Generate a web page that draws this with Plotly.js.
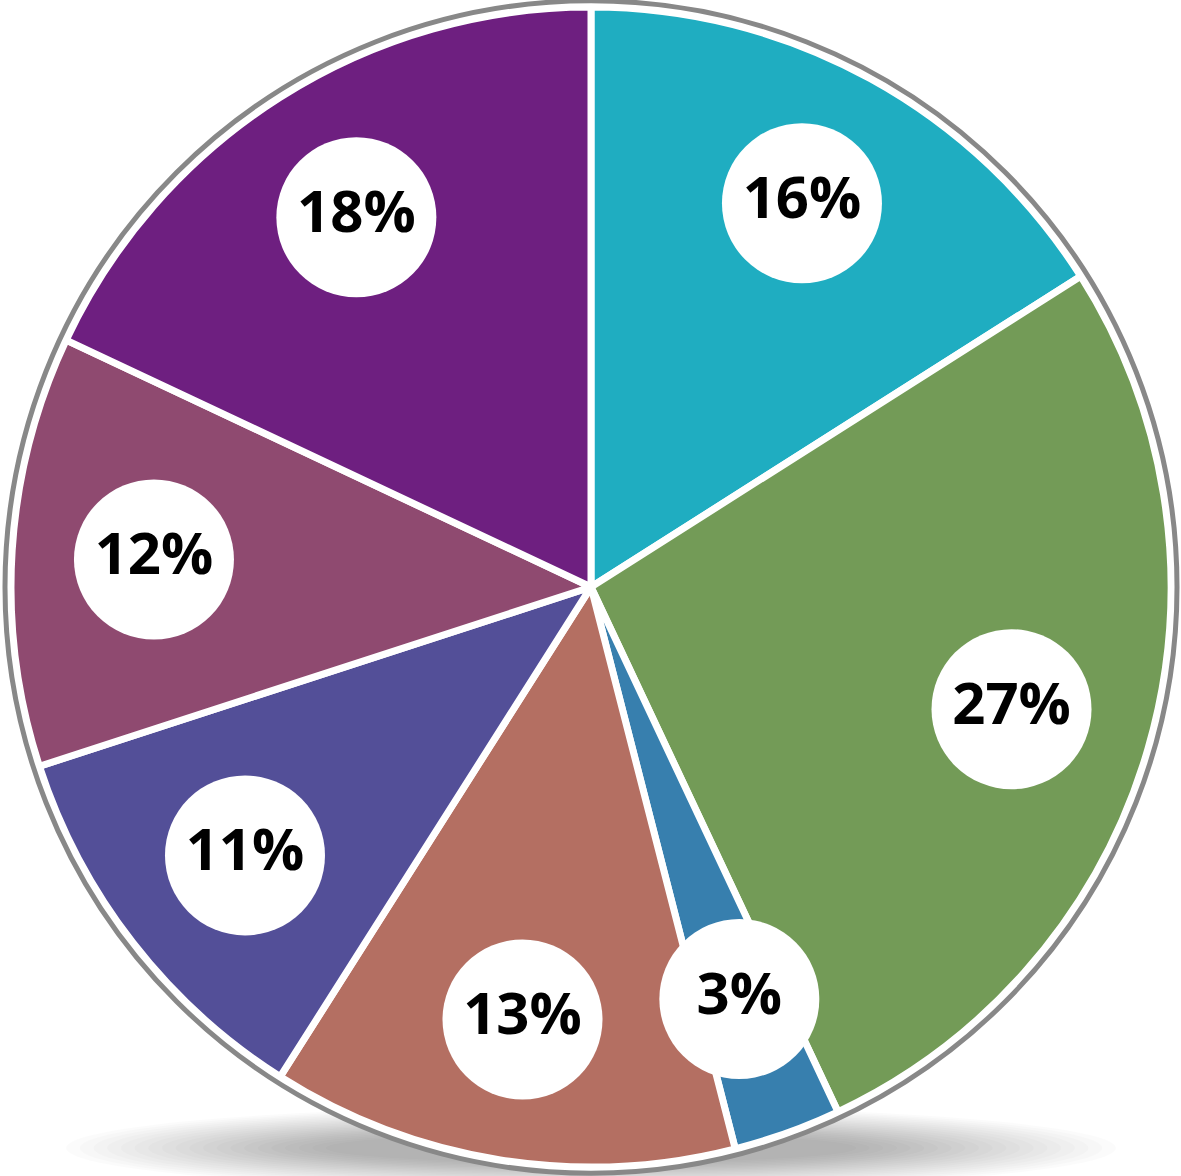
<!DOCTYPE html>
<html>
<head>
<meta charset="utf-8">
<script src="https://cdn.plot.ly/plotly-3.0.1.min.js"></script>
<style>
  html, body { margin: 0; padding: 0; background: #ffffff; }
  #chart { width: 1181px; height: 1176px; }
</style>
</head>
<body>
<div id="chart"></div>
<script>
// ---- data ----
const categories = ["A", "B", "C", "D", "E", "F", "G"];
const shares = [16, 27, 3, 13, 11, 12, 18];
const labels = ["16%", "27%", "3%", "13%", "11%", "12%", "18%"];
const colors = ["#1fadc1", "#739b57", "#377fae", "#b46f62", "#534f98", "#8f4a70", "#6e1f80"];

// ---- derived angles (degrees, clockwise from 12 o'clock) ----
const total = shares.reduce((a, b) => a + b, 0);
let acc = 0;
const mids = shares.map(v => { const m = (acc + v / 2) / total * 360; acc += v; return m; });
const widths = shares.map(v => v / total * 360);

const W = 1181, H = 1176;
const cx = 591, cy = 587, ringR = 586, sliceR = 580;
const domX = [(cx - ringR) / W, (cx + ringR) / W];
const domY = [(H - cy - ringR) / H, (H - cy + ringR) / H];

const slices = {
  type: "barpolar",
  r: shares.map(() => 1),
  theta: mids,
  width: widths,
  marker: { color: colors, line: { color: "#ffffff", width: 7 } },
  text: categories,
  hoverinfo: "none",
  showlegend: false
};

const bubbles = {
  type: "scatterpolar",
  mode: "markers+text",
  r: shares.map(() => 0.755),
  theta: mids,
  text: labels,
  textposition: "middle center",
  textfont: { family: "Open Sans, DejaVu Sans, sans-serif", size: 58, color: "#000000", weight: "bold" },
  marker: { color: "#ffffff", size: 160, line: { width: 0 }, opacity: 1 },
  hoverinfo: "none",
  showlegend: false,
  cliponaxis: false
};

// soft shadow under the disc
const shapes = [];
const n = 20;
for (let i = 0; i < n; i++) {
  const t = i / (n - 1);
  const rx = 525 - 260 * t;
  const ry = 42 - 27 * t;
  const sy = 1148;
  shapes.push({
    type: "circle", xref: "paper", yref: "paper", layer: "below",
    x0: (cx - rx) / W, x1: (cx + rx) / W,
    y0: (H - sy - ry) / H, y1: (H - sy + ry) / H,
    fillcolor: "rgba(0,0,0,0.017)", line: { width: 0 }
  });
}

const layout = {
  width: W, height: H,
  margin: { l: 0, r: 0, t: 0, b: 0, pad: 0 },
  paper_bgcolor: "#ffffff",
  plot_bgcolor: "#ffffff",
  showlegend: false,
  shapes: shapes,
  polar: {
    domain: { x: domX, y: domY },
    bgcolor: "#ffffff",
    bargap: 0,
    hole: 0,
    radialaxis: { range: [0, ringR / sliceR], visible: false, showgrid: false, showline: false, showticklabels: false, ticks: "" },
    angularaxis: {
      rotation: 90, direction: "clockwise",
      showgrid: false, showticklabels: false, ticks: "",
      showline: true, linecolor: "#888888", linewidth: 5
    }
  }
};

Plotly.newPlot("chart", [slices, bubbles], layout, { staticPlot: true, displayModeBar: false });
</script>
</body>
</html>
